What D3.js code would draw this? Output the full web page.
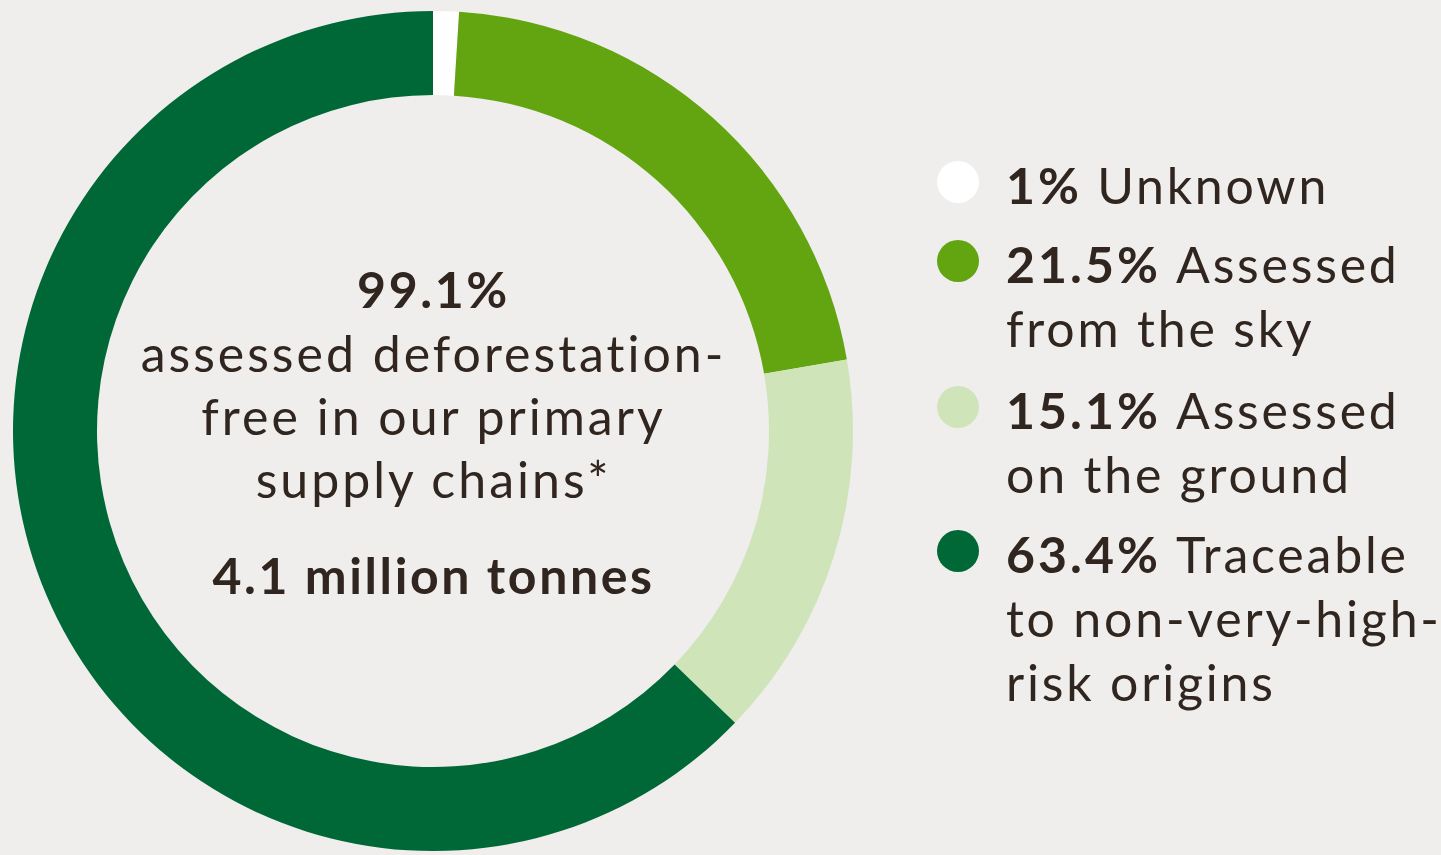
<!DOCTYPE html>
<html>
<head>
<meta charset="utf-8">
<script src="https://cdn.jsdelivr.net/npm/d3@7"></script>
<style>
  html, body { margin: 0; padding: 0; background: #efeeec; }
  svg { display: block; }
  text { font-family: Lato, "Open Sans", sans-serif; fill: #31261f; letter-spacing: 3px; }
  text.b { letter-spacing: 2.6px; }
  text.leg { letter-spacing: 2.8px; }
  text.leg .b { letter-spacing: 3px; }
</style>
</head>
<body>
<svg id="chart" width="1441" height="855"></svg>
<script>
// Shares of primary supply chain volume
const categories = ["Unknown", "Assessed from the sky", "Assessed on the ground", "Traceable to non-very-high-risk origins"];
const values = [1, 21.5, 15.1, 63.4];
const colors = ["#ffffff", "#62a511", "#d0e4b9", "#006837"];
const valueLabels = ["1%", "21.5%", "15.1%", "63.4%"];
const legendLines = [
  ["Unknown"],
  ["Assessed", "from the sky"],
  ["Assessed", "on the ground"],
  ["Traceable", "to non-very-high-", "risk origins"]
];
const centerHeadline = "99.1%";
const centerLines = ["assessed deforestation-", "free in our primary", "supply chains*"];
const centerTotal = "4.1 million tonnes";

const svg = d3.select("#chart");
const cx = 433, cy = 431, rOuter = 420, rInner = 336;
const fontSize = 50;

const pie = d3.pie().sort(null).value(d => d)(values);
const arc = d3.arc().innerRadius(rInner).outerRadius(rOuter);

const ring = svg.append("g").attr("transform", `translate(${cx},${cy})`);
ring.selectAll("path")
  .data(pie)
  .join("path")
  .attr("d", arc)
  .attr("fill", (d, i) => colors[i]);

// Centre label (offset by half the trailing letter-spacing)
const center = svg.append("g").attr("transform", `translate(${cx + 0.5},0)`);
center.append("text")
  .attr("class", "b")
  .attr("x", 0).attr("y", 308)
  .attr("text-anchor", "middle")
  .attr("font-size", fontSize).attr("font-weight", 700)
  .text(centerHeadline);
center.selectAll("text.line")
  .data(centerLines)
  .join("text")
  .attr("class", "line")
  .attr("x", 0)
  .attr("y", (d, i) => 372 + i * 63)
  .attr("text-anchor", "middle")
  .attr("font-size", fontSize)
  .text(d => d);
center.append("text")
  .attr("class", "b")
  .attr("x", 0).attr("y", 594)
  .attr("text-anchor", "middle")
  .attr("font-size", fontSize).attr("font-weight", 700)
  .text(centerTotal);

// Legend
const legendX = 958, textX = 1006;
const itemTops = [204, 283, 429, 573];
const lineGap = 64;
const legend = svg.append("g");
categories.forEach((c, i) => {
  const g = legend.append("g");
  g.append("circle")
    .attr("cx", legendX).attr("cy", itemTops[i] - 22)
    .attr("r", 21)
    .attr("fill", colors[i]);
  const t = g.append("text").attr("class", "leg").attr("font-size", fontSize);
  legendLines[i].forEach((ln, j) => {
    if (j === 0) {
      t.append("tspan").attr("class", "b").attr("x", textX).attr("y", itemTops[i])
        .attr("font-weight", 700).text(valueLabels[i] + " ");
      t.append("tspan").text(ln);
    } else {
      t.append("tspan").attr("x", textX).attr("y", itemTops[i] + j * lineGap).text(ln);
    }
  });
});
</script>
</body>
</html>
